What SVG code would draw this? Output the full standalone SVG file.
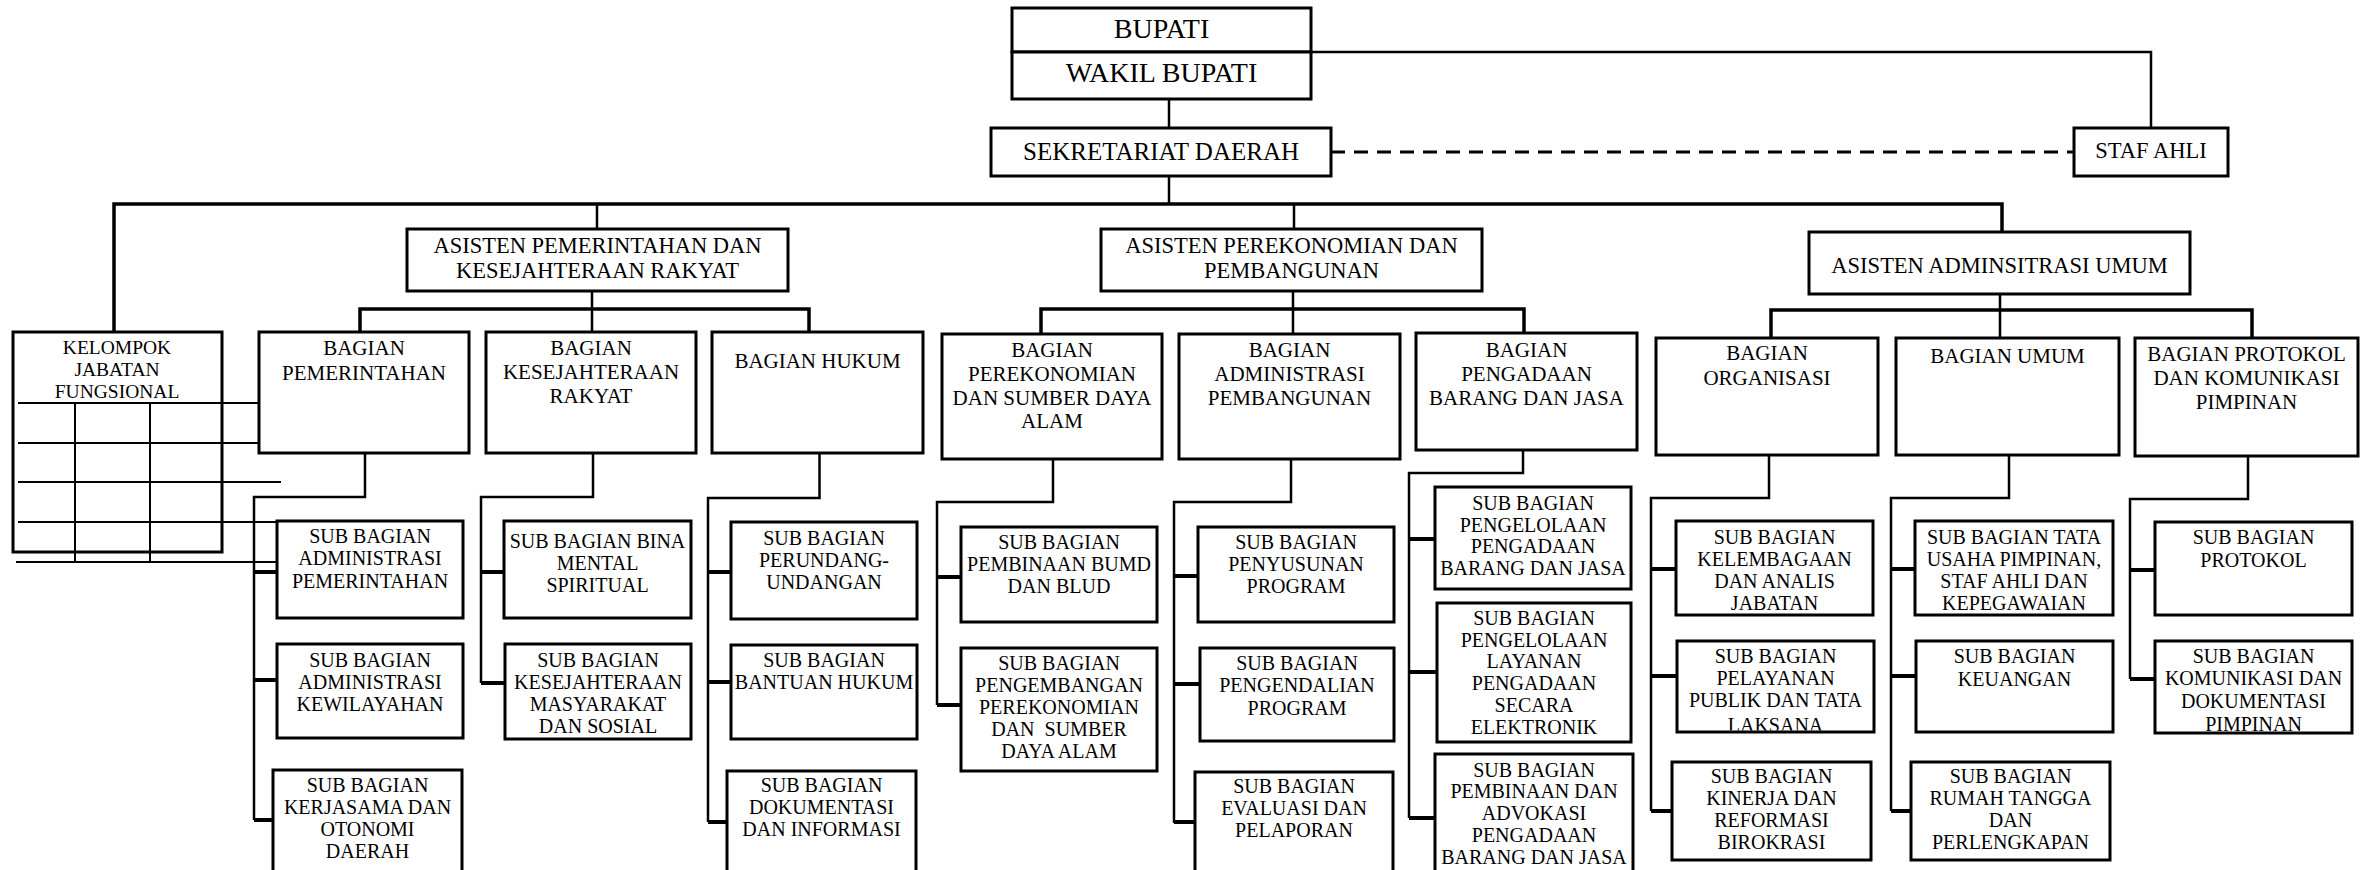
<svg xmlns="http://www.w3.org/2000/svg" width="2363" height="870" viewBox="0 0 2363 870">
<style>
.box{fill:#fff;stroke:#000;stroke-width:3}
.t{font-family:"Liberation Serif","Times New Roman",serif;text-anchor:middle;fill:#000}
.top{font-size:28px}
.sek{font-size:25px}
.ast{font-size:22.5px}
.bag{font-size:21px}
.sub{font-size:20px}
.kel{font-size:19.5px}
.c{fill:none;stroke:#000;stroke-width:2.5}
.bar{fill:none;stroke:#000;stroke-width:3.5}
.stub{fill:none;stroke:#000;stroke-width:4}
.dash{fill:none;stroke:#000;stroke-width:3;stroke-dasharray:14 9}
.g{fill:none;stroke:#000;stroke-width:2}
</style>
<defs>
<clipPath id="clipPel"><rect x="1677" y="641" width="197" height="89.5"/></clipPath>
<clipPath id="clipKom"><rect x="2155" y="641" width="197" height="90.5"/></clipPath>
</defs>
<rect x="0" y="0" width="2363" height="870" fill="#fff"/>

<g id="connectors">
<path class="c" d="M1311,52 H2151 V128"/>
<path class="c" d="M1169,99 V128"/>
<path class="dash" d="M1331,152 H2074"/>
<path class="c" d="M1169,176 V204"/>
<path class="bar" d="M114,332 V204 H2002 V232"/>
<path class="c" d="M597,204 V229"/>
<path class="c" d="M1294,204 V229"/>
<!-- Asisten Pemerintahan -->
<path class="c" d="M592,291 V332"/>
<path class="bar" d="M360,332 V309 H809 V332"/>
<!-- Bagian Pemerintahan -->
<path class="c" d="M365,453 V497 H254 V820"/>
<path class="stub" d="M254,572 H277 M254,680 H277 M254,820 H273"/>
<!-- Bagian Kesra -->
<path class="c" d="M593,453 V497 H481 V683"/>
<path class="stub" d="M481,572 H504 M481,683 H505"/>
<!-- Bagian Hukum -->
<path class="c" d="M819.5,453 V498 H708 V822"/>
<path class="stub" d="M708,572 H731 M708,682 H731 M708,822 H727"/>
<!-- Asisten Perekonomian -->
<path class="c" d="M1293,291 V334"/>
<path class="bar" d="M1041,334 V309 H1524 V333"/>
<!-- Bagian Perekonomian -->
<path class="c" d="M1053,459 V502 H937 V705"/>
<path class="stub" d="M937,577 H961 M937,705 H961"/>
<!-- Bagian Adm Pembangunan -->
<path class="c" d="M1291,459 V502 H1174 V823"/>
<path class="stub" d="M1174,576 H1198 M1174,684 H1200 M1174,822 H1195"/>
<!-- Bagian Pengadaan -->
<path class="c" d="M1523,450 V473 H1409 V818"/>
<path class="stub" d="M1409,539 H1435 M1409,672 H1437 M1409,818 H1435"/>
<!-- Asisten Administrasi -->
<path class="c" d="M2000,294 V338"/>
<path class="bar" d="M1771,338 V310 H2252 V338"/>
<!-- Bagian Organisasi -->
<path class="c" d="M1769,455 V498 H1651 V811"/>
<path class="stub" d="M1651,569 H1676 M1651,676 H1677 M1651,811 H1672"/>
<!-- Bagian Umum -->
<path class="c" d="M2009,455 V498 H1891 V811"/>
<path class="stub" d="M1891,569 H1915 M1891,676 H1916 M1891,811 H1911"/>
<!-- Bagian Protokol -->
<path class="c" d="M2248,456 V499 H2130 V679"/>
<path class="stub" d="M2130,570 H2155 M2130,679 H2155"/>
</g>

<g id="bupati"><rect class="box" x="1012" y="8" width="299" height="44"/><text class="t top" x="1161.5" y="38">BUPATI</text></g>
<g id="wakil-bupati"><rect class="box" x="1012" y="52" width="299" height="47"/><text class="t top" x="1161.5" y="82">WAKIL BUPATI</text></g>
<g id="sekretariat-daerah"><rect class="box" x="991" y="128" width="340" height="48"/><text class="t sek" x="1161" y="160">SEKRETARIAT DAERAH</text></g>
<g id="staf-ahli"><rect class="box" x="2074" y="128" width="154" height="48"/><text class="t ast" x="2151" y="158">STAF AHLI</text></g>

<g id="asisten-pemerintahan"><rect class="box" x="407" y="229" width="381" height="62"/><text class="t ast" x="597.5" y="253">ASISTEN PEMERINTAHAN DAN</text><text class="t ast" x="597.5" y="278">KESEJAHTERAAN RAKYAT</text></g>
<g id="asisten-perekonomian"><rect class="box" x="1101" y="229" width="381" height="62"/><text class="t ast" x="1291.5" y="253">ASISTEN PEREKONOMIAN DAN</text><text class="t ast" x="1291.5" y="278">PEMBANGUNAN</text></g>
<g id="asisten-administrasi"><rect class="box" x="1809" y="232" width="381" height="62"/><text class="t ast" x="1999.5" y="273">ASISTEN ADMINSITRASI UMUM</text></g>

<g id="kelompok-jabatan-fungsional">
<rect class="box" x="13" y="332" width="209" height="220"/>
<text class="t kel" x="117" y="354">KELOMPOK</text><text class="t kel" x="117" y="376">JABATAN</text><text class="t kel" x="117" y="398">FUNGSIONAL</text>
<path class="g" d="M18,403 H258 M18,443 H258 M18,482 H281 M18,522 H277 M16,562 H277 M75,403 V562 M150,403 V562"/>
</g>

<g id="bagian-pemerintahan"><rect class="box" x="259" y="332" width="210" height="121"/><text class="t bag" x="364" y="355">BAGIAN</text><text class="t bag" x="364" y="380">PEMERINTAHAN</text></g>
<g id="bagian-kesejahteraan-rakyat"><rect class="box" x="486" y="332" width="210" height="121"/><text class="t bag" x="591" y="355">BAGIAN</text><text class="t bag" x="591" y="379">KESEJAHTERAAN</text><text class="t bag" x="591" y="403">RAKYAT</text></g>
<g id="bagian-hukum"><rect class="box" x="712" y="332" width="211" height="121"/><text class="t bag" x="817.5" y="368">BAGIAN HUKUM</text></g>

<g id="sub-administrasi-pemerintahan"><rect class="box" x="277" y="521" width="186" height="97"/><text class="t sub" x="370" y="543">SUB BAGIAN</text><text class="t sub" x="370" y="565">ADMINISTRASI</text><text class="t sub" x="370" y="588">PEMERINTAHAN</text></g>
<g id="sub-administrasi-kewilayahan"><rect class="box" x="277" y="644" width="186" height="94"/><text class="t sub" x="370" y="667">SUB BAGIAN</text><text class="t sub" x="370" y="689">ADMINISTRASI</text><text class="t sub" x="370" y="711">KEWILAYAHAN</text></g>
<g id="sub-kerjasama"><rect class="box" x="273" y="770" width="189" height="110"/><text class="t sub" x="367.5" y="792">SUB BAGIAN</text><text class="t sub" x="367.5" y="814">KERJASAMA DAN</text><text class="t sub" x="367.5" y="836">OTONOMI</text><text class="t sub" x="367.5" y="858">DAERAH</text></g>

<g id="sub-bina-mental"><rect class="box" x="504" y="521" width="187" height="97"/><text class="t sub" x="597.5" y="548">SUB BAGIAN BINA</text><text class="t sub" x="597.5" y="570">MENTAL</text><text class="t sub" x="597.5" y="592">SPIRITUAL</text></g>
<g id="sub-kesejahteraan-masyarakat"><rect class="box" x="505" y="644" width="186" height="95"/><text class="t sub" x="598" y="667">SUB BAGIAN</text><text class="t sub" x="598" y="689">KESEJAHTERAAN</text><text class="t sub" x="598" y="711">MASYARAKAT</text><text class="t sub" x="598" y="733">DAN SOSIAL</text></g>

<g id="sub-perundang-undangan"><rect class="box" x="731" y="522" width="186" height="97"/><text class="t sub" x="824" y="545">SUB BAGIAN</text><text class="t sub" x="824" y="567">PERUNDANG-</text><text class="t sub" x="824" y="589">UNDANGAN</text></g>
<g id="sub-bantuan-hukum"><rect class="box" x="731" y="645" width="186" height="94"/><text class="t sub" x="824" y="667">SUB BAGIAN</text><text class="t sub" x="824" y="689">BANTUAN HUKUM</text></g>
<g id="sub-dokumentasi-informasi"><rect class="box" x="727" y="771" width="189" height="110"/><text class="t sub" x="821.5" y="792">SUB BAGIAN</text><text class="t sub" x="821.5" y="814">DOKUMENTASI</text><text class="t sub" x="821.5" y="836">DAN INFORMASI</text></g>

<g id="bagian-perekonomian"><rect class="box" x="942" y="334" width="220" height="125"/><text class="t bag" x="1052" y="357">BAGIAN</text><text class="t bag" x="1052" y="381">PEREKONOMIAN</text><text class="t bag" x="1052" y="405">DAN SUMBER DAYA</text><text class="t bag" x="1052" y="428">ALAM</text></g>
<g id="bagian-administrasi-pembangunan"><rect class="box" x="1179" y="334" width="221" height="125"/><text class="t bag" x="1289.5" y="357">BAGIAN</text><text class="t bag" x="1289.5" y="381">ADMINISTRASI</text><text class="t bag" x="1289.5" y="405">PEMBANGUNAN</text></g>
<g id="bagian-pengadaan"><rect class="box" x="1416" y="333" width="221" height="117"/><text class="t bag" x="1526.5" y="357">BAGIAN</text><text class="t bag" x="1526.5" y="381">PENGADAAN</text><text class="t bag" x="1526.5" y="405">BARANG DAN JASA</text></g>

<g id="sub-pembinaan-bumd"><rect class="box" x="961" y="527" width="196" height="95"/><text class="t sub" x="1059" y="549">SUB BAGIAN</text><text class="t sub" x="1059" y="571">PEMBINAAN BUMD</text><text class="t sub" x="1059" y="593">DAN BLUD</text></g>
<g id="sub-pengembangan-perekonomian"><rect class="box" x="961" y="648" width="196" height="123"/><text class="t sub" x="1059" y="670">SUB BAGIAN</text><text class="t sub" x="1059" y="692">PENGEMBANGAN</text><text class="t sub" x="1059" y="714">PEREKONOMIAN</text><text class="t sub" x="1059" y="736" xml:space="preserve">DAN  SUMBER</text><text class="t sub" x="1059" y="758">DAYA ALAM</text></g>

<g id="sub-penyusunan-program"><rect class="box" x="1198" y="527" width="196" height="95"/><text class="t sub" x="1296" y="549">SUB BAGIAN</text><text class="t sub" x="1296" y="571">PENYUSUNAN</text><text class="t sub" x="1296" y="593">PROGRAM</text></g>
<g id="sub-pengendalian-program"><rect class="box" x="1200" y="648" width="194" height="93"/><text class="t sub" x="1297" y="670">SUB BAGIAN</text><text class="t sub" x="1297" y="692">PENGENDALIAN</text><text class="t sub" x="1297" y="715">PROGRAM</text></g>
<g id="sub-evaluasi-pelaporan"><rect class="box" x="1195" y="772" width="198" height="110"/><text class="t sub" x="1294" y="793">SUB BAGIAN</text><text class="t sub" x="1294" y="815">EVALUASI DAN</text><text class="t sub" x="1294" y="837">PELAPORAN</text></g>

<g id="sub-pengelolaan-pengadaan"><rect class="box" x="1435" y="487" width="196" height="102"/><text class="t sub" x="1533" y="510">SUB BAGIAN</text><text class="t sub" x="1533" y="532">PENGELOLAAN</text><text class="t sub" x="1533" y="553">PENGADAAN</text><text class="t sub" x="1533" y="575">BARANG DAN JASA</text></g>
<g id="sub-pengelolaan-layanan"><rect class="box" x="1437" y="603" width="194" height="139"/><text class="t sub" x="1534" y="625">SUB BAGIAN</text><text class="t sub" x="1534" y="647">PENGELOLAAN</text><text class="t sub" x="1534" y="668">LAYANAN</text><text class="t sub" x="1534" y="690">PENGADAAN</text><text class="t sub" x="1534" y="712">SECARA</text><text class="t sub" x="1534" y="734">ELEKTRONIK</text></g>
<g id="sub-pembinaan-advokasi"><rect class="box" x="1435" y="754" width="198" height="128"/><text class="t sub" x="1534" y="777">SUB BAGIAN</text><text class="t sub" x="1534" y="798">PEMBINAAN DAN</text><text class="t sub" x="1534" y="820">ADVOKASI</text><text class="t sub" x="1534" y="842">PENGADAAN</text><text class="t sub" x="1534" y="864">BARANG DAN JASA</text></g>

<g id="bagian-organisasi"><rect class="box" x="1656" y="338" width="222" height="117"/><text class="t bag" x="1767" y="360">BAGIAN</text><text class="t bag" x="1767" y="385">ORGANISASI</text></g>
<g id="bagian-umum"><rect class="box" x="1896" y="338" width="223" height="117"/><text class="t bag" x="2007.5" y="363">BAGIAN UMUM</text></g>
<g id="bagian-protokol"><rect class="box" x="2135" y="338" width="223" height="118"/><text class="t bag" x="2246.5" y="361">BAGIAN PROTOKOL</text><text class="t bag" x="2246.5" y="385">DAN KOMUNIKASI</text><text class="t bag" x="2246.5" y="409">PIMPINAN</text></g>

<g id="sub-kelembagaan"><rect class="box" x="1676" y="521" width="197" height="94"/><text class="t sub" x="1774.5" y="544">SUB BAGIAN</text><text class="t sub" x="1774.5" y="566">KELEMBAGAAN</text><text class="t sub" x="1774.5" y="588">DAN ANALIS</text><text class="t sub" x="1774.5" y="610">JABATAN</text></g>
<g id="sub-pelayanan-publik"><rect class="box" x="1677" y="641" width="197" height="91"/><g clip-path="url(#clipPel)"><text class="t sub" x="1775.5" y="663">SUB BAGIAN</text><text class="t sub" x="1775.5" y="685">PELAYANAN</text><text class="t sub" x="1775.5" y="707">PUBLIK DAN TATA</text><text class="t sub" x="1775.5" y="732">LAKSANA</text></g></g>
<g id="sub-kinerja"><rect class="box" x="1672" y="762" width="199" height="98"/><text class="t sub" x="1771.5" y="783">SUB BAGIAN</text><text class="t sub" x="1771.5" y="805">KINERJA DAN</text><text class="t sub" x="1771.5" y="827">REFORMASI</text><text class="t sub" x="1771.5" y="849">BIROKRASI</text></g>

<g id="sub-tata-usaha"><rect class="box" x="1915" y="521" width="198" height="94"/><text class="t sub" x="2014" y="544">SUB BAGIAN TATA</text><text class="t sub" x="2014" y="566">USAHA PIMPINAN,</text><text class="t sub" x="2014" y="588">STAF AHLI DAN</text><text class="t sub" x="2014" y="610">KEPEGAWAIAN</text></g>
<g id="sub-keuangan"><rect class="box" x="1916" y="641" width="197" height="91"/><text class="t sub" x="2014.5" y="663">SUB BAGIAN</text><text class="t sub" x="2014.5" y="686">KEUANGAN</text></g>
<g id="sub-rumah-tangga"><rect class="box" x="1911" y="762" width="199" height="98"/><text class="t sub" x="2010.5" y="783">SUB BAGIAN</text><text class="t sub" x="2010.5" y="805">RUMAH TANGGA</text><text class="t sub" x="2010.5" y="827">DAN</text><text class="t sub" x="2010.5" y="849">PERLENGKAPAN</text></g>

<g id="sub-protokol"><rect class="box" x="2155" y="522" width="197" height="93"/><text class="t sub" x="2253.5" y="544">SUB BAGIAN</text><text class="t sub" x="2253.5" y="567">PROTOKOL</text></g>
<g id="sub-komunikasi-dokumentasi"><rect class="box" x="2155" y="641" width="197" height="92"/><g clip-path="url(#clipKom)"><text class="t sub" x="2253.5" y="663">SUB BAGIAN</text><text class="t sub" x="2253.5" y="685">KOMUNIKASI DAN</text><text class="t sub" x="2253.5" y="708">DOKUMENTASI</text><text class="t sub" x="2253.5" y="731">PIMPINAN</text></g></g>
</svg>
